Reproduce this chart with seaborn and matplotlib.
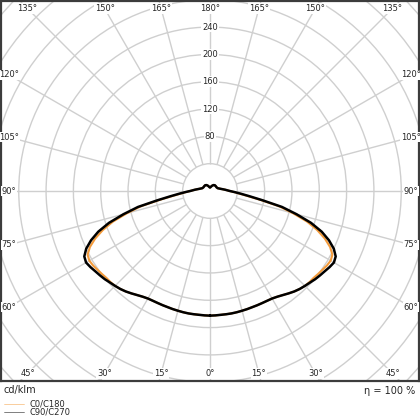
import numpy as np
import pandas as pd
import seaborn as sns
import matplotlib
matplotlib.use("Agg")
import matplotlib.pyplot as plt
from matplotlib.patches import Circle
from matplotlib.lines import Line2D

# ---- data ----
gamma = [0, 2.5, 5, 7.5, 10, 12.5, 15, 17.5, 20, 22.5, 25, 27.5, 30, 32.5, 35,
         37.5, 40, 42.5, 45, 47.5, 50, 52.5, 55, 57.5, 60, 62.5, 65, 67.5, 70,
         72.5, 75, 77.5, 80, 82.5, 85, 87.5, 90, 95, 100, 105, 110, 120, 130,
         140, 150, 160, 170, 180]
c90_c270 = [182.5, 182.3, 182, 182, 182, 181.8, 181.5, 181.3, 181, 181, 181,
            181.2, 181.8, 183.5, 186, 189, 192, 194.5, 196.5, 198.5, 201, 203,
            205, 207.5, 209.5, 207.5, 200, 188.5, 174, 155, 131, 108, 78, 58,
            45, 36, 29, 22, 17, 14, 12, 11, 11, 11, 10, 8, 6, 5]
c0_c180 = [182.5, 182.3, 182, 182, 182, 181.8, 181.5, 181.3, 181, 181, 181,
           181.2, 181.8, 183.5, 186, 189, 192, 194.5, 196.5, 197.5, 198, 199.5,
           201, 203, 204, 202, 194, 182, 167, 149, 126, 104, 75, 55,
           43, 35, 29, 22, 17, 14, 12, 11, 11, 11, 10, 8, 6, 5]
series_names = ["C0/C180", "C90/C270"]
series_colors = ["#f39b3c", "#000000"]
ring_values = [40, 80, 120, 160, 200, 240, 280, 320, 360, 400]
ring_labels = [80, 120, 160, 200, 240]
spoke_angles = list(range(0, 360, 15))
angle_labels = list(range(0, 181, 15))
unit_text = "cd/klm"
eff_text = "η = 100 %"

TXT = "#262626"
GRID = "#cfcfcf"


def closed_curve(g, r, name):
    g = np.radians(np.asarray(g, float))
    r = np.asarray(r, float)
    xr, yr = r * np.sin(g), -r * np.cos(g)
    x = np.concatenate([xr, -xr[::-1]])
    y = np.concatenate([yr, yr[::-1]])
    return pd.DataFrame({"x": x, "y": y, "plane": name,
                         "order": np.arange(len(x))})


sns.set_style("white")
fig = plt.figure(figsize=(4.2, 4.2), dpi=100)
ax = fig.add_axes([1 / 420, 39 / 420, 418 / 420, 380 / 420])

# grid rings
for rv in ring_values:
    ax.add_patch(Circle((0, 0), rv, fill=False, edgecolor=GRID, lw=1.0, zorder=1))
# spokes
for a in spoke_angles:
    t = np.radians(a)
    ax.plot([40 * np.sin(t), 600 * np.sin(t)], [-40 * np.cos(t), -600 * np.cos(t)],
            color=GRID, lw=1.0, zorder=1, solid_capstyle="butt")

# curves
df0 = closed_curve(gamma, c0_c180, series_names[0])
df1 = closed_curve(gamma, c90_c270, series_names[1])
sns.lineplot(data=df0, x="x", y="y", sort=False, estimator=None, color=series_colors[0],
             lw=1.5, ax=ax, zorder=3)
sns.lineplot(data=df1, x="x", y="y", sort=False, estimator=None, color=series_colors[1],
             lw=1.8, ax=ax, zorder=4)

XL, YL = 306, 278.2
ax.set_xlim(-XL, XL)
ax.set_ylim(-YL, YL)
ax.set_xlabel("")
ax.set_ylabel("")
ax.set_xticks([])
ax.set_yticks([])
for s in ax.spines.values():
    s.set_color("#3c3c3c")
    s.set_linewidth(1.6)

bbox = dict(facecolor="white", edgecolor="none", pad=0.6)
# ring labels
for rv in ring_labels:
    ax.text(0, rv, str(rv), ha="center", va="center", fontsize=6, color=TXT,
            bbox=bbox, zorder=5)

# angle labels along the frame
XI, YI = XL - 11.5, YL - 11
for a in angle_labels:
    t = np.radians(a)
    sides = [1] if a in (0, 180) else [1, -1]
    for sd in sides:
        sx, sy = sd * np.sin(t), -np.cos(t)
        cand = []
        if abs(sx) > 1e-9:
            cand.append(XI / abs(sx))
        if abs(sy) > 1e-9:
            cand.append(YI / abs(sy))
        k = min(cand)
        ax.text(k * sx, k * sy, f"{a}°", ha="center", va="center", fontsize=6,
                color=TXT, bbox=bbox, zorder=5, clip_on=False)

# footer
fig.text(4 / 420, 1 - 389.5 / 420, unit_text, fontsize=7, color=TXT, va="center", ha="left")
fig.text(415 / 420, 1 - 390.5 / 420, eff_text, fontsize=7, color=TXT, va="center", ha="right")

# legend
for i, (nm, col) in enumerate(zip(series_names, series_colors)):
    yy = 1 - (403.8 + 8.6 * i) / 420
    fig.add_artist(Line2D([4 / 420, 24 / 420], [yy, yy], transform=fig.transFigure,
                          color=col, lw=0.5, alpha=0.7))
    fig.text(29 / 420, yy, nm, fontsize=6, color=TXT, va="center", ha="left")

fig.savefig("out.png", dpi=100)
